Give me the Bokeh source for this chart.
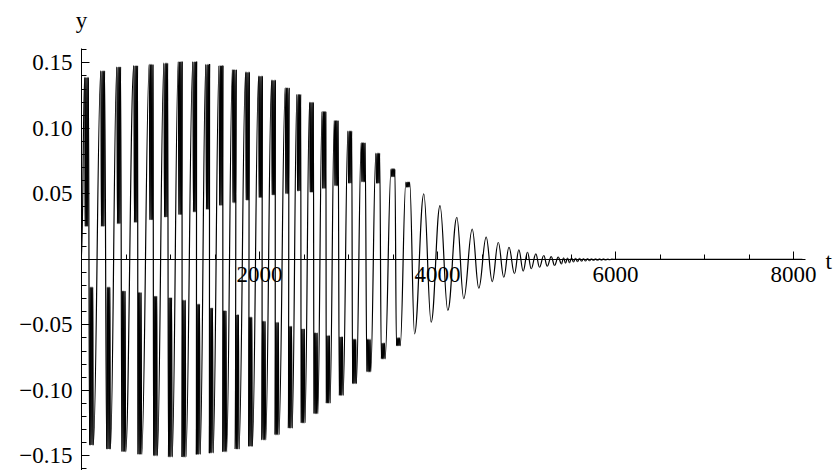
from bokeh.plotting import figure
from bokeh.models import FixedTicker, CustomJSTickFormatter, Label, ColumnDataSource
from bokeh.embed import file_html
from bokeh.resources import INLINE

# ---------------- data ----------------
# positive lobes: centre time, peak value, lower edge of the fast jitter (None = smooth lobe)
pos_t = [56, 238, 418, 609, 783, 947, 1109, 1272, 1418, 1567, 1717, 1865, 2011, 2157,
         2311, 2442, 2584, 2725, 2862, 3015, 3165, 3329, 3500, 3666, 3846, 4028, 4217,
         4390, 4547, 4683, 4803, 4914, 5011, 5105, 5194, 5278, 5356]
pos_peak = [0.139, 0.144, 0.147, 0.148, 0.149, 0.150, 0.151, 0.151, 0.149, 0.148, 0.145,
            0.143, 0.140, 0.137, 0.131, 0.126, 0.120, 0.113, 0.106, 0.098, 0.089, 0.081,
            0.069, 0.059, 0.050, 0.041, 0.032, 0.023, 0.017, 0.013, 0.0092, 0.0072,
            0.0054, 0.0042, 0.0029, 0.0021, 0.0016]
pos_inner = [0.025, 0.025, 0.027, 0.028, 0.030, 0.032, 0.034, 0.036, 0.038, 0.041, 0.043,
             0.045, 0.047, 0.049, 0.050, 0.052, 0.051, 0.054, 0.056, 0.058, 0.059, 0.058,
             0.063, 0.055] + [None] * 13

# negative lobes: centre time, trough value, upper edge of the fast jitter
neg_t = [112, 304, 475, 655, 831, 998, 1151, 1312, 1458, 1609, 1749, 1899, 2048, 2197,
         2346, 2489, 2633, 2771, 2918, 3067, 3228, 3390, 3560, 3742, 3929, 4116, 4295,
         4464, 4615, 4745, 4865, 4963, 5053, 5146, 5233, 5315]
neg_trough = [-0.142, -0.145, -0.147, -0.149, -0.150, -0.151, -0.151, -0.149, -0.148,
              -0.147, -0.145, -0.143, -0.138, -0.134, -0.129, -0.125, -0.118, -0.110,
              -0.104, -0.095, -0.086, -0.076, -0.066, -0.057, -0.048, -0.039, -0.030,
              -0.022, -0.017, -0.0137, -0.011, -0.009, -0.0072, -0.006, -0.0052, -0.0047]
neg_inner = [-0.021, -0.021, -0.024, -0.025, -0.028, -0.029, -0.031, -0.034, -0.037,
             -0.039, -0.042, -0.044, -0.047, -0.048, -0.051, -0.053, -0.056, -0.058,
             -0.059, -0.061, -0.061, -0.064, -0.060] + [None] * 13

# small ripples of the tail and the flat end
ripple_t = [5393, 5416, 5438, 5461, 5483, 5506, 5528, 5551, 5573, 5596, 5618, 5640, 5663,
            5685, 5708, 5730, 5753, 5775, 5798, 5820, 5843, 5865, 5888, 5910, 5933, 5955,
            6000, 8100]
ripple_y = [-0.0035, 0.0012, -0.0030, 0.0010, -0.0025, 0.0009, -0.0020, 0.0008, -0.0018,
            0.0007, -0.0015, 0.0006, -0.0013, 0.0005, -0.0011, 0.0004, -0.0009, 0.0004,
            -0.0007, 0.0003, -0.0006, 0.0003, -0.0005, 0.0002, -0.0003, 0.0001, 0.0, 0.0]

start_t, start_y = 0, 0.0

x_ticks = [2000, 4000, 6000, 8000]
x_minor = [500 * k for k in range(1, 17) if k % 4]
y_ticks = [-0.15, -0.10, -0.05, 0.05, 0.10, 0.15]
y_minor = [round(0.01 * k, 2) for k in range(-16, 17) if k % 5]
x_axis_span = (0, 8135)
y_axis_span = (-0.161, 0.161)

# ---------------- build the curve ----------------
LOBE_W = 42.0
N_JITTER = 3
lobes = [(t, v, i) for t, v, i in zip(pos_t, pos_peak, pos_inner)]
lobes += [(t, v, i) for t, v, i in zip(neg_t, neg_trough, neg_inner)]
lobes.sort(key=lambda a: a[0])

pts = [(start_t, start_y)]
for t, v, inn in lobes:
    if inn is None:
        pts.append((t, v))
    else:
        n = 2 * N_JITTER
        for k in range(n + 1):
            pts.append((t - LOBE_W / 2 + LOBE_W * k / n, v if k % 2 == 0 else inn))
pts += list(zip(ripple_t, ripple_y))

x0, y0, x1, y1, cx0, cy0, cx1, cy1 = ([] for _ in range(8))
for (a, b), (c, d) in zip(pts[:-1], pts[1:]):
    dx = c - a
    x0.append(a); y0.append(b); x1.append(c); y1.append(d)
    cx0.append(a + 0.4 * dx); cy0.append(b)
    cx1.append(c - 0.4 * dx); cy1.append(d)
src = ColumnDataSource(dict(x0=x0, y0=y0, x1=x1, y1=y1, cx0=cx0, cy0=cy0, cx1=cx1, cy1=cy1))

# ---------------- figure ----------------
W, H = 835, 470
X0_PX, PX_PER_T = 81.0, 0.089
Y0_PX, PX_PER_Y = 258.8, 1310.0
p = figure(width=W, height=H, output_backend="svg", toolbar_location=None,
           x_range=(-X0_PX / PX_PER_T, (W - X0_PX) / PX_PER_T),
           y_range=(-(H - Y0_PX) / PX_PER_Y, Y0_PX / PX_PER_Y),
           min_border_left=0, min_border_right=0, min_border_top=0, min_border_bottom=0)
p.background_fill_color = "white"
p.border_fill_color = "white"
p.outline_line_color = None
p.grid.visible = False

p.bezier(x0="x0", y0="y0", x1="x1", y1="y1", cx0="cx0", cy0="cy0", cx1="cx1", cy1="cy1",
         source=src, line_color="black", line_width=1.2)

FONT = "Liberation Serif"
for ax in (p.xaxis[0], p.yaxis[0]):
    ax.fixed_location = 0
    ax.axis_line_color = "black"
    ax.axis_line_width = 1
    ax.major_tick_in = 8
    ax.major_tick_out = 0
    ax.minor_tick_in = 5
    ax.minor_tick_out = 0
    ax.major_tick_line_color = "black"
    ax.minor_tick_line_color = "black"
    ax.major_label_text_font = FONT
    ax.major_label_text_font_size = "23px"
    ax.major_label_text_color = "black"

p.xaxis.bounds = x_axis_span
p.yaxis.bounds = y_axis_span
p.xaxis.ticker = FixedTicker(ticks=x_ticks, minor_ticks=x_minor)
p.yaxis.ticker = FixedTicker(ticks=y_ticks, minor_ticks=y_minor)
p.xaxis.formatter = CustomJSTickFormatter(code="return tick.toFixed(0);")
p.yaxis.formatter = CustomJSTickFormatter(
    code="return (tick < 0 ? '\\u2212' : '') + Math.abs(tick).toFixed(2);")
p.xaxis.major_label_standoff = 8
p.yaxis.major_label_standoff = 9

p.add_layout(Label(x=0, y=y_axis_span[1], text="y", text_font=FONT, text_font_size="23px",
                   text_align="center", text_baseline="alphabetic", y_offset=28,
                   text_color="black"))
p.add_layout(Label(x=x_axis_span[1], y=0, text="t", text_font=FONT, text_font_size="23px",
                   text_align="left", text_baseline="alphabetic", x_offset=20, y_offset=-2,
                   text_color="black"))

open("out.html", "w").write(file_html(p, INLINE))
